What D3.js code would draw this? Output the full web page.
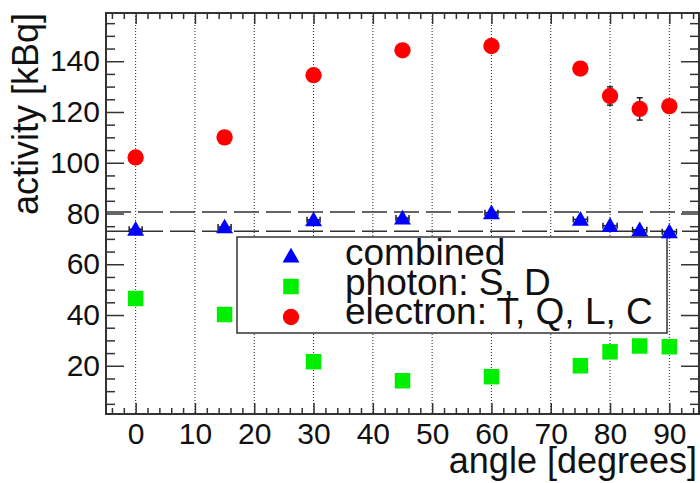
<!DOCTYPE html>
<html lang="en">
<head>
    <meta charset="UTF-8">
    <title>activity vs angle</title>
    <script src="https://d3js.org/d3.v7.min.js"></script>
    <style>
        body {
            margin: 0;
            padding: 0;
            background: white;
        }
        svg text {
            font-family: "Liberation Sans", Arial, sans-serif;
            fill: #111;
        }
    </style>
</head>
<body>
    <div id="chart"></div>
    <script>
        // data
        const angles = [0, 15, 30, 45, 60, 75, 80, 85, 90]
        const combined = [73.8, 74.7, 77.5, 78.2, 80.3, 77.7, 75.2, 73.6, 72.8]
        const combinedXErr = [1.1, 1.1, 1.1, 1.1, 1.1, 1.2, 1.2, 1.2, 1.2]
        const photon = [46.5, 40.2, 21.6, 14.1, 15.7, 20.0, 25.5, 27.8, 27.5]
        const electron = [102.1, 110.0, 134.5, 144.3, 146.0, 137.1, 126.3, 121.2, 122.3]
        const electronErr = [2, 2, 2, 2, 2, 2, 3.6, 4.4, 2.5]
        const bandLines = [80.6, 73.0]
        const xTicks = [0, 10, 20, 30, 40, 50, 60, 70, 80, 90]
        const yTicks = [20, 40, 60, 80, 100, 120, 140]
        const legendLabels = ["combined", "photon: S, D", "electron: T, Q, L, C"]

        // dimensions
        const width = 700
        const height = 483
        const frame = { left: 106, right: 699, top: 13, bottom: 414 }

        const svg = d3.select("#chart")
            .append("svg")
                .attr("width", width)
                .attr("height", height)

        // scales
        const x = d3.scaleLinear().domain([-5, 95]).range([frame.left, frame.right])
        const y = d3.scaleLinear().domain([1, 159]).range([frame.bottom, frame.top])

        const xMinor = d3.range(-4, 95, 2).filter(d => d % 10 !== 0)
        const yMinor = d3.range(5, 159, 5).filter(d => d % 20 !== 0)

        // vertical dotted grid
        svg.append("g")
            .selectAll("line")
            .data(xTicks)
            .join("line")
                .attr("x1", d => x(d))
                .attr("x2", d => x(d))
                .attr("y1", frame.top)
                .attr("y2", frame.bottom)
                .attr("stroke", "#222")
                .attr("stroke-width", 1)
                .attr("stroke-dasharray", "1,2")

        // dashed horizontal lines
        svg.append("g")
            .selectAll("line")
            .data(bandLines)
            .join("line")
                .attr("x1", frame.left)
                .attr("x2", frame.right)
                .attr("y1", d => y(d))
                .attr("y2", d => y(d))
                .attr("stroke", "#333")
                .attr("stroke-width", 1.5)
                .attr("stroke-dasharray", "25,7")

        // axes (ticks point inward)
        const styleAxis = g => {
            g.select(".domain").remove()
            g.selectAll("line").attr("stroke", "#333").attr("stroke-width", 1.5)
            g.selectAll("text").attr("font-size", 30).attr("fill", "#111")
        }

        svg.append("g")
            .attr("transform", `translate(0,${frame.bottom})`)
            .call(d3.axisBottom(x).tickValues(xTicks).tickSizeInner(-11).tickSizeOuter(0).tickPadding(9).tickFormat(d3.format("d")))
            .call(styleAxis)
            .attr("font-family", null)

        svg.append("g")
            .attr("transform", `translate(0,${frame.bottom})`)
            .call(d3.axisBottom(x).tickValues(xMinor).tickSize(-6).tickFormat(""))
            .call(styleAxis)

        svg.append("g")
            .attr("transform", `translate(0,${frame.top})`)
            .call(d3.axisTop(x).tickValues(xTicks).tickSize(-11).tickFormat(""))
            .call(styleAxis)

        svg.append("g")
            .attr("transform", `translate(0,${frame.top})`)
            .call(d3.axisTop(x).tickValues(xMinor).tickSize(-6).tickFormat(""))
            .call(styleAxis)

        svg.append("g")
            .attr("transform", `translate(${frame.left},0)`)
            .call(d3.axisLeft(y).tickValues(yTicks).tickSizeInner(-18).tickSizeOuter(0).tickPadding(6))
            .call(styleAxis)
            .attr("font-family", null)

        svg.append("g")
            .attr("transform", `translate(${frame.left},0)`)
            .call(d3.axisLeft(y).tickValues(yMinor).tickSize(-9).tickFormat(""))
            .call(styleAxis)

        svg.append("g")
            .attr("transform", `translate(${frame.right},0)`)
            .call(d3.axisRight(y).tickValues(yTicks).tickSize(-18).tickFormat(""))
            .call(styleAxis)

        svg.append("g")
            .attr("transform", `translate(${frame.right},0)`)
            .call(d3.axisRight(y).tickValues(yMinor).tickSize(-9).tickFormat(""))
            .call(styleAxis)

        // frame
        svg.append("rect")
            .attr("x", frame.left)
            .attr("y", frame.top)
            .attr("width", frame.right - frame.left)
            .attr("height", frame.bottom - frame.top)
            .attr("fill", "none")
            .attr("stroke", "#333")
            .attr("stroke-width", 2)

        // axis titles
        svg.append("text")
            .attr("x", frame.right - 2)
            .attr("y", 473)
            .attr("text-anchor", "end")
            .attr("font-size", 36)
            .text("angle [degrees]")

        svg.append("text")
            .attr("transform", `translate(38,${frame.top}) rotate(-90)`)
            .attr("text-anchor", "end")
            .attr("font-size", 36)
            .text("activity [kBq]")

        // legend box
        const legend = svg.append("g")
        legend.append("rect")
            .attr("x", 237)
            .attr("y", 237)
            .attr("width", 430)
            .attr("height", 96)
            .attr("fill", "white")
            .attr("stroke", "#333")
            .attr("stroke-width", 1.5)

        const triangle = d3.symbol().type(d3.symbolTriangle).size(125)
        const square = d3.symbol().type(d3.symbolSquare).size(240)
        const circle = d3.symbol().type(d3.symbolCircle).size(210)
        const markers = [
            { sym: triangle, color: "#0000ff", dy: 1.5 },
            { sym: square, color: "#00ee00", dy: 0 },
            { sym: circle, color: "#ff0000", dy: 0 }
        ]

        legendLabels.forEach((label, i) => {
            const cy = 256 + i * 30.5
            legend.append("path")
                .attr("d", markers[i].sym())
                .attr("transform", `translate(291,${cy + markers[i].dy})`)
                .attr("fill", markers[i].color)
            legend.append("text")
                .attr("x", 345)
                .attr("y", 265 + i * 29.5)
                .attr("font-size", 37)
                .text(label)
        })

        // electron error bars
        const eErr = svg.append("g").attr("stroke", "#222").attr("stroke-width", 1.5)
        angles.forEach((a, i) => {
            const top = y(electron[i] + electronErr[i])
            const bot = y(electron[i] - electronErr[i])
            eErr.append("line").attr("x1", x(a)).attr("x2", x(a)).attr("y1", top).attr("y2", bot)
            eErr.append("line").attr("x1", x(a) - 3).attr("x2", x(a) + 3).attr("y1", top).attr("y2", top)
            eErr.append("line").attr("x1", x(a) - 3).attr("x2", x(a) + 3).attr("y1", bot).attr("y2", bot)
        })

        // combined x error bars
        const cErr = svg.append("g").attr("stroke", "#222").attr("stroke-width", 1.5)
        angles.forEach((a, i) => {
            const left = x(a - combinedXErr[i])
            const right = x(a + combinedXErr[i])
            const cy = y(combined[i])
            cErr.append("line").attr("x1", left).attr("x2", right).attr("y1", cy).attr("y2", cy)
            cErr.append("line").attr("x1", left).attr("x2", left).attr("y1", cy - 3).attr("y2", cy + 3)
            cErr.append("line").attr("x1", right).attr("x2", right).attr("y1", cy - 3).attr("y2", cy + 3)
        })

        // points
        svg.append("g")
            .selectAll("path")
            .data(angles)
            .join("path")
                .attr("d", square())
                .attr("transform", (d, i) => `translate(${x(d)},${y(photon[i])})`)
                .attr("fill", "#00ee00")

        svg.append("g")
            .selectAll("path")
            .data(angles)
            .join("path")
                .attr("d", circle())
                .attr("transform", (d, i) => `translate(${x(d)},${y(electron[i])})`)
                .attr("fill", "#ff0000")

        svg.append("g")
            .selectAll("path")
            .data(angles)
            .join("path")
                .attr("d", triangle())
                .attr("transform", (d, i) => `translate(${x(d)},${y(combined[i]) + 1.5})`)
                .attr("fill", "#0000ff")
    </script>
</body>
</html>
